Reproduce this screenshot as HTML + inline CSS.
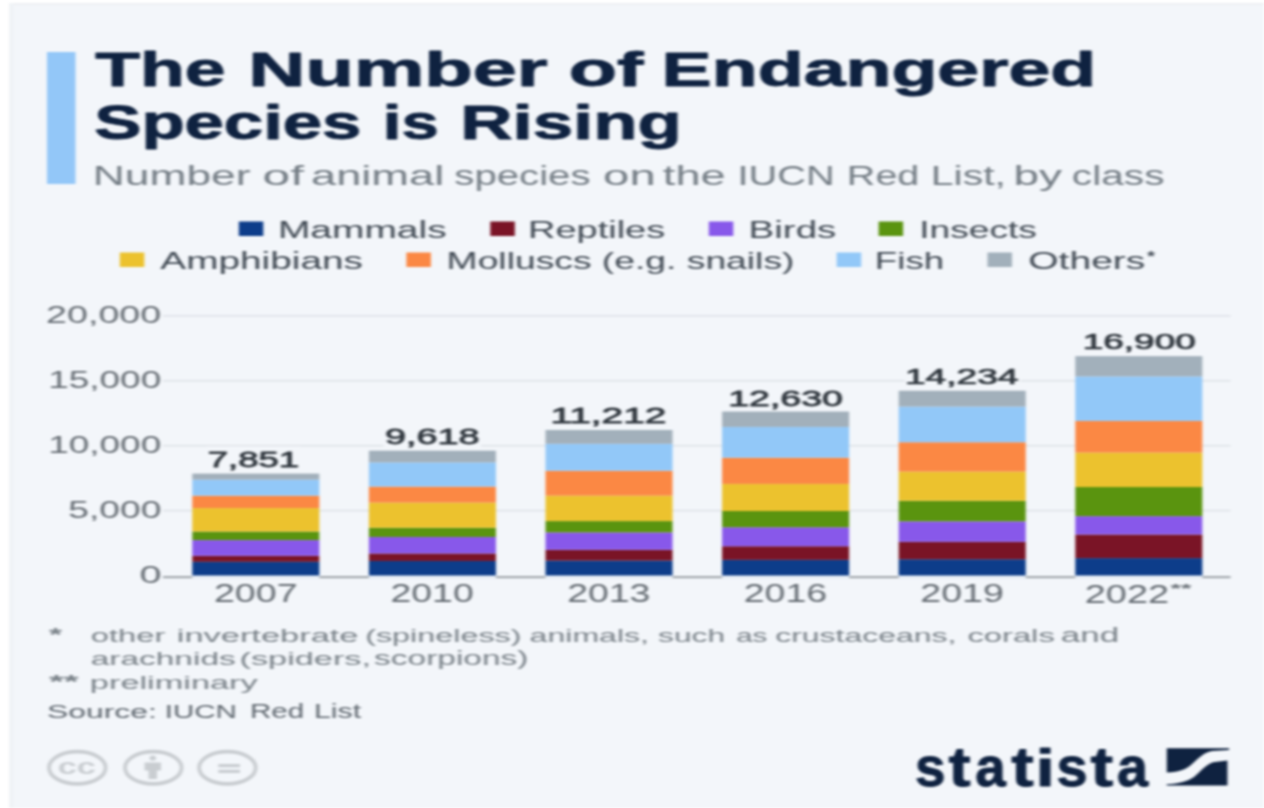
<!DOCTYPE html>
<html><head><meta charset="utf-8"><title>The Number of Endangered Species is Rising</title>
<style>
html,body{margin:0;padding:0;background:#fff;}
body{width:1264px;height:808px;overflow:hidden;position:relative;}
svg{position:absolute;left:0;top:0;display:block;}
text{font-family:"Liberation Sans",sans-serif;white-space:pre;}
</style></head><body>
<svg width="1264" height="808" viewBox="0 0 1264 808">
<defs><filter id="bl" x="-2%" y="-2%" width="104%" height="104%" color-interpolation-filters="sRGB"><feGaussianBlur stdDeviation="1.5 0.8"/></filter></defs>
<rect x="0" y="0" width="1264" height="808" fill="#ffffff"/>
<g filter="url(#bl)">
<rect x="9" y="3" width="1255" height="805" fill="#f3f6fa"/>
<rect x="9" y="3" width="1255" height="2" fill="#eef0f3"/>
<rect x="9" y="3" width="5" height="805" fill="#f0f3f6"/>
<rect x="47" y="52" width="28.5" height="132" fill="#93c7f8"/>
<text transform="translate(95.27,85.50) scale(1.5313,1)" font-size="47.83" font-weight="700" fill="#0f2240" stroke="#0f2240" stroke-width="0.9" stroke-linejoin="round">The</text>
<text transform="translate(248.35,85.50) scale(1.6558,1)" font-size="47.83" font-weight="700" fill="#0f2240" stroke="#0f2240" stroke-width="0.9" stroke-linejoin="round">Number</text>
<text transform="translate(568.84,85.50) scale(1.6519,1)" font-size="47.83" font-weight="700" fill="#0f2240" stroke="#0f2240" stroke-width="0.9" stroke-linejoin="round">of</text>
<text transform="translate(661.61,85.50) scale(1.5728,1)" font-size="47.83" font-weight="700" fill="#0f2240" stroke="#0f2240" stroke-width="0.9" stroke-linejoin="round">Endangered</text>
<text transform="translate(94.28,138.50) scale(1.4772,1)" font-size="47.83" font-weight="700" fill="#0f2240" stroke="#0f2240" stroke-width="0.9" stroke-linejoin="round">Species</text>
<text transform="translate(382.82,138.50) scale(1.3987,1)" font-size="47.83" font-weight="700" fill="#0f2240" stroke="#0f2240" stroke-width="0.9" stroke-linejoin="round">is</text>
<text transform="translate(460.29,138.50) scale(1.5155,1)" font-size="47.83" font-weight="700" fill="#0f2240" stroke="#0f2240" stroke-width="0.9" stroke-linejoin="round">Rising</text>
<text transform="translate(92.75,184.50) scale(1.6547,1)" font-size="26.81" font-weight="400" fill="#737c84">Number</text>
<text transform="translate(262.51,184.50) scale(1.8531,1)" font-size="26.81" font-weight="400" fill="#737c84">of</text>
<text transform="translate(310.99,184.50) scale(1.6876,1)" font-size="26.81" font-weight="400" fill="#737c84">animal</text>
<text transform="translate(454.29,184.50) scale(1.4997,1)" font-size="26.81" font-weight="400" fill="#737c84">species</text>
<text transform="translate(603.11,184.50) scale(1.7628,1)" font-size="26.81" font-weight="400" fill="#737c84">on</text>
<text transform="translate(662.82,184.50) scale(1.6882,1)" font-size="26.81" font-weight="400" fill="#737c84">the</text>
<text transform="translate(737.42,184.50) scale(1.4837,1)" font-size="26.81" font-weight="400" fill="#737c84">IUCN</text>
<text transform="translate(846.84,184.50) scale(1.4742,1)" font-size="26.81" font-weight="400" fill="#737c84">Red</text>
<text transform="translate(930.72,184.50) scale(1.5300,1)" font-size="26.81" font-weight="400" fill="#737c84">List,</text>
<text transform="translate(1013.51,184.50) scale(1.7142,1)" font-size="26.81" font-weight="400" fill="#737c84">by</text>
<text transform="translate(1071.87,184.50) scale(1.5173,1)" font-size="26.81" font-weight="400" fill="#737c84">class</text>
<rect x="238.8" y="221.5" width="24.5" height="14.5" fill="#0d3d8a"/>
<text transform="translate(277.88,238.00) scale(1.5812,1)" font-size="24.64" font-weight="400" fill="#3f4852">Mammals</text>
<rect x="490.3" y="221.5" width="24.5" height="14.5" fill="#7a1426"/>
<text transform="translate(527.96,238.00) scale(1.5424,1)" font-size="24.64" font-weight="400" fill="#3f4852">Reptiles</text>
<rect x="708.8" y="221.5" width="24.5" height="14.5" fill="#8858ea"/>
<text transform="translate(748.62,238.00) scale(1.5617,1)" font-size="24.64" font-weight="400" fill="#3f4852">Birds</text>
<rect x="878.5999999999999" y="221.5" width="24.5" height="14.5" fill="#5a940f"/>
<text transform="translate(919.25,238.00) scale(1.5089,1)" font-size="24.64" font-weight="400" fill="#3f4852">Insects</text>
<rect x="119.8" y="252.5" width="24.5" height="14.5" fill="#ecc22e"/>
<text transform="translate(160.30,269.00) scale(1.5743,1)" font-size="24.64" font-weight="400" fill="#3f4852">Amphibians</text>
<rect x="406.40000000000003" y="252.5" width="24.5" height="14.5" fill="#fb8844"/>
<text transform="translate(446.62,269.00) scale(1.5127,1)" font-size="24.64" font-weight="400" fill="#3f4852">Molluscs (e.g. snails)</text>
<rect x="836.6999999999999" y="252.5" width="24.5" height="14.5" fill="#92c8f8"/>
<text transform="translate(874.87,269.00) scale(1.4886,1)" font-size="24.64" font-weight="400" fill="#3f4852">Fish</text>
<rect x="987.5" y="252.5" width="24.5" height="14.5" fill="#a2b0bb"/>
<text transform="translate(1028.24,269.00) scale(1.5846,1)" font-size="24.64" font-weight="400" fill="#3f4852">Others</text>
<text transform="translate(1147.30,261.36) scale(0.4931,0.3571)" font-size="40" font-weight="700" fill="#3f4852">*</text>
<text transform="translate(139.42,583.00) scale(1.6793,1)" font-size="23.57" font-weight="400" fill="#636a71">0</text>
<rect x="163" y="509.80" width="1067.6" height="1.6" fill="#dfe3e8"/>
<text transform="translate(68.31,518.10) scale(1.5780,1)" font-size="23.57" font-weight="400" fill="#636a71">5,000</text>
<rect x="163" y="444.90" width="1067.6" height="1.6" fill="#dfe3e8"/>
<text transform="translate(48.23,453.20) scale(1.5675,1)" font-size="23.57" font-weight="400" fill="#636a71">10,000</text>
<rect x="163" y="380.00" width="1067.6" height="1.6" fill="#dfe3e8"/>
<text transform="translate(48.23,388.30) scale(1.5675,1)" font-size="23.57" font-weight="400" fill="#636a71">15,000</text>
<rect x="163" y="315.10" width="1067.6" height="1.6" fill="#dfe3e8"/>
<text transform="translate(46.12,323.40) scale(1.5971,1)" font-size="23.57" font-weight="400" fill="#636a71">20,000</text>
<rect x="163" y="576" width="1067.6" height="2.2" fill="#a4aaaf"/>
<rect x="192.30" y="575" width="127.0" height="4" fill="#e9eff6"/>
<rect x="192.30" y="561.79" width="127.0" height="13.71" fill="#0d3d8a"/>
<rect x="192.30" y="555.80" width="127.0" height="6.00" fill="#7a1426"/>
<rect x="192.30" y="540.09" width="127.0" height="15.71" fill="#8858ea"/>
<rect x="192.30" y="531.50" width="127.0" height="8.59" fill="#5a940f"/>
<rect x="192.30" y="508.07" width="127.0" height="23.43" fill="#ecc22e"/>
<rect x="192.30" y="495.66" width="127.0" height="12.41" fill="#fb8844"/>
<rect x="192.30" y="479.67" width="127.0" height="15.99" fill="#92c8f8"/>
<rect x="192.30" y="473.59" width="127.0" height="6.07" fill="#a2b0bb"/>
<rect x="206.60" y="446.50" width="93.90" height="24.50" fill="#f3f6fa"/>
<text transform="translate(207.77,467.00) scale(1.6193,1)" font-size="22.57" font-weight="400" fill="#2e353c" stroke="#2e353c" stroke-width="0.75">7,851</text>
<text transform="translate(213.92,602.00) scale(1.4973,1)" font-size="25.14" font-weight="400" fill="#636a71">2007</text>
<rect x="368.90" y="575" width="127.0" height="4" fill="#e9eff6"/>
<rect x="368.90" y="560.96" width="127.0" height="14.54" fill="#0d3d8a"/>
<rect x="368.90" y="553.46" width="127.0" height="7.50" fill="#7a1426"/>
<rect x="368.90" y="536.96" width="127.0" height="16.50" fill="#8858ea"/>
<rect x="368.90" y="527.76" width="127.0" height="9.20" fill="#5a940f"/>
<rect x="368.90" y="502.59" width="127.0" height="25.17" fill="#ecc22e"/>
<rect x="368.90" y="486.57" width="127.0" height="16.02" fill="#fb8844"/>
<rect x="368.90" y="462.41" width="127.0" height="24.17" fill="#92c8f8"/>
<rect x="368.90" y="450.66" width="127.0" height="11.75" fill="#a2b0bb"/>
<rect x="383.60" y="423.80" width="97.40" height="24.50" fill="#f3f6fa"/>
<text transform="translate(384.90,444.30) scale(1.6768,1)" font-size="22.57" font-weight="400" fill="#2e353c" stroke="#2e353c" stroke-width="0.75">9,618</text>
<text transform="translate(390.53,602.00) scale(1.4868,1)" font-size="25.14" font-weight="400" fill="#636a71">2010</text>
<rect x="545.50" y="575" width="127.0" height="4" fill="#e9eff6"/>
<rect x="545.50" y="560.53" width="127.0" height="14.97" fill="#0d3d8a"/>
<rect x="545.50" y="549.79" width="127.0" height="10.75" fill="#7a1426"/>
<rect x="545.50" y="532.39" width="127.0" height="17.39" fill="#8858ea"/>
<rect x="545.50" y="521.07" width="127.0" height="11.32" fill="#5a940f"/>
<rect x="545.50" y="495.62" width="127.0" height="25.45" fill="#ecc22e"/>
<rect x="545.50" y="470.73" width="127.0" height="24.90" fill="#fb8844"/>
<rect x="545.50" y="443.78" width="127.0" height="26.95" fill="#92c8f8"/>
<rect x="545.50" y="429.97" width="127.0" height="13.81" fill="#a2b0bb"/>
<rect x="550.30" y="402.20" width="117.30" height="24.50" fill="#f3f6fa"/>
<text transform="translate(550.38,422.70) scale(1.7241,1)" font-size="22.57" font-weight="400" fill="#2e353c" stroke="#2e353c" stroke-width="0.75">11,212</text>
<text transform="translate(567.13,602.00) scale(1.4903,1)" font-size="25.14" font-weight="400" fill="#636a71">2013</text>
<rect x="722.10" y="575" width="127.0" height="4" fill="#e9eff6"/>
<rect x="722.10" y="559.85" width="127.0" height="15.65" fill="#0d3d8a"/>
<rect x="722.10" y="546.24" width="127.0" height="13.60" fill="#7a1426"/>
<rect x="722.10" y="527.27" width="127.0" height="18.98" fill="#8858ea"/>
<rect x="722.10" y="510.99" width="127.0" height="16.28" fill="#5a940f"/>
<rect x="722.10" y="483.91" width="127.0" height="27.08" fill="#ecc22e"/>
<rect x="722.10" y="457.69" width="127.0" height="26.22" fill="#fb8844"/>
<rect x="722.10" y="426.93" width="127.0" height="30.76" fill="#92c8f8"/>
<rect x="722.10" y="411.56" width="127.0" height="15.37" fill="#a2b0bb"/>
<rect x="728.00" y="385.00" width="116.80" height="24.50" fill="#f3f6fa"/>
<text transform="translate(728.18,405.50) scale(1.6640,1)" font-size="22.57" font-weight="400" fill="#2e353c" stroke="#2e353c" stroke-width="0.75">12,630</text>
<text transform="translate(743.73,602.00) scale(1.4903,1)" font-size="25.14" font-weight="400" fill="#636a71">2016</text>
<rect x="898.70" y="575" width="127.0" height="4" fill="#e9eff6"/>
<rect x="898.70" y="559.25" width="127.0" height="16.25" fill="#0d3d8a"/>
<rect x="898.70" y="541.79" width="127.0" height="17.46" fill="#7a1426"/>
<rect x="898.70" y="521.35" width="127.0" height="20.44" fill="#8858ea"/>
<rect x="898.70" y="500.77" width="127.0" height="20.57" fill="#5a940f"/>
<rect x="898.70" y="471.57" width="127.0" height="29.20" fill="#ecc22e"/>
<rect x="898.70" y="442.23" width="127.0" height="29.33" fill="#fb8844"/>
<rect x="898.70" y="406.60" width="127.0" height="35.63" fill="#92c8f8"/>
<rect x="898.70" y="390.74" width="127.0" height="15.86" fill="#a2b0bb"/>
<rect x="904.70" y="363.80" width="115.70" height="24.50" fill="#f3f6fa"/>
<text transform="translate(904.92,384.30) scale(1.6447,1)" font-size="22.57" font-weight="400" fill="#2e353c" stroke="#2e353c" stroke-width="0.75">14,234</text>
<text transform="translate(920.32,602.00) scale(1.4938,1)" font-size="25.14" font-weight="400" fill="#636a71">2019</text>
<rect x="1075.30" y="575" width="127.0" height="4" fill="#e9eff6"/>
<rect x="1075.30" y="558.12" width="127.0" height="17.38" fill="#0d3d8a"/>
<rect x="1075.30" y="534.50" width="127.0" height="23.62" fill="#7a1426"/>
<rect x="1075.30" y="516.14" width="127.0" height="18.35" fill="#8858ea"/>
<rect x="1075.30" y="487.02" width="127.0" height="29.13" fill="#5a940f"/>
<rect x="1075.30" y="452.58" width="127.0" height="34.44" fill="#ecc22e"/>
<rect x="1075.30" y="420.91" width="127.0" height="31.67" fill="#fb8844"/>
<rect x="1075.30" y="376.43" width="127.0" height="44.48" fill="#92c8f8"/>
<rect x="1075.30" y="356.14" width="127.0" height="20.29" fill="#a2b0bb"/>
<rect x="1082.60" y="328.40" width="114.90" height="24.50" fill="#f3f6fa"/>
<text transform="translate(1082.83,348.90) scale(1.6355,1)" font-size="22.57" font-weight="400" fill="#2e353c" stroke="#2e353c" stroke-width="0.75">16,900</text>
<text transform="translate(1084.70,602.50) scale(1.5104,1)" font-size="25.14" font-weight="400" fill="#636a71">2022</text>
<text transform="translate(1170.60,593.37) scale(0.6667,0.3214)" font-size="40" font-weight="700" fill="#636a71">**</text>
<text transform="translate(49.00,640.81) scale(0.8333,0.4643)" font-size="40" font-weight="700" fill="#788087">*</text>
<text transform="translate(90.79,641.70) scale(1.6966,1)" font-size="19.28" font-weight="400" fill="#788087">other</text>
<text transform="translate(176.76,641.70) scale(1.7862,1)" font-size="19.28" font-weight="400" fill="#788087">invertebrate</text>
<text transform="translate(365.16,641.70) scale(1.6787,1)" font-size="19.28" font-weight="400" fill="#788087">(spineless)</text>
<text transform="translate(529.62,641.70) scale(1.6639,1)" font-size="19.28" font-weight="400" fill="#788087">animals,</text>
<text transform="translate(658.05,641.70) scale(1.6478,1)" font-size="19.28" font-weight="400" fill="#788087">such</text>
<text transform="translate(736.22,641.70) scale(1.5299,1)" font-size="19.28" font-weight="400" fill="#788087">as</text>
<text transform="translate(775.22,641.70) scale(1.6566,1)" font-size="19.28" font-weight="400" fill="#788087">crustaceans,</text>
<text transform="translate(967.39,641.70) scale(1.6993,1)" font-size="19.28" font-weight="400" fill="#788087">corals</text>
<text transform="translate(1060.80,641.70) scale(1.8125,1)" font-size="19.28" font-weight="400" fill="#788087">and</text>
<text transform="translate(90.76,665.40) scale(1.7342,1)" font-size="19.28" font-weight="400" fill="#788087">arachnids</text>
<text transform="translate(239.54,665.40) scale(1.7795,1)" font-size="19.28" font-weight="400" fill="#788087">(spiders,</text>
<text transform="translate(374.10,665.40) scale(1.7366,1)" font-size="19.28" font-weight="400" fill="#788087">scorpions)</text>
<text transform="translate(48.93,687.81) scale(0.9500,0.4643)" font-size="40" font-weight="700" fill="#788087">**</text>
<text transform="translate(89.87,688.50) scale(1.7806,1)" font-size="19.28" font-weight="400" fill="#788087">preliminary</text>
<text transform="translate(46.96,717.80) scale(1.6551,1)" font-size="19.28" font-weight="400" fill="#5d656d">Source:</text>
<text transform="translate(164.74,717.80) scale(1.5335,1)" font-size="19.28" font-weight="400" fill="#5d656d">IUCN</text>
<text transform="translate(249.94,717.80) scale(1.5318,1)" font-size="19.28" font-weight="400" fill="#5d656d">Red</text>
<text transform="translate(313.98,717.80) scale(1.5705,1)" font-size="19.28" font-weight="400" fill="#5d656d">List</text>
<ellipse cx="77.3" cy="767.75" rx="28.3" ry="16.2" fill="none" stroke="#c9cdd1" stroke-width="3.8"/>
<ellipse cx="153.3" cy="767.75" rx="28.3" ry="16.2" fill="none" stroke="#c9cdd1" stroke-width="3.8"/>
<ellipse cx="227.4" cy="767.75" rx="28.3" ry="16.2" fill="none" stroke="#c9cdd1" stroke-width="3.8"/>
<text transform="translate(57.63,773.60) scale(1.5640,1)" font-size="21.89" font-weight="700" fill="#c9cdd1">cc</text>
<ellipse cx="152.8" cy="758" rx="3.2" ry="2.6" fill="#c9cdd1"/>
<path d="M144.5 762.5 h16.5 v8 h-4 v8.5 h-8.5 v-8.5 h-4 z" fill="#c9cdd1"/>
<rect x="218.3" y="764" width="21.7" height="3.2" fill="#c9cdd1"/>
<rect x="218.3" y="769.8" width="21.7" height="3.2" fill="#c9cdd1"/>
<text transform="translate(914.88,786.25) scale(0.9132,0.9182)" font-size="60" font-weight="700" fill="#0f2240" stroke="#0f2240" stroke-width="1.092" stroke-linejoin="round">s</text>
<text transform="translate(948.54,785.74) scale(1.1075,0.9298)" font-size="60" font-weight="700" fill="#0f2240" stroke="#0f2240" stroke-width="0.982" stroke-linejoin="round">t</text>
<text transform="translate(975.36,786.25) scale(0.9128,0.9182)" font-size="60" font-weight="700" fill="#0f2240" stroke="#0f2240" stroke-width="1.092" stroke-linejoin="round">a</text>
<text transform="translate(1011.23,785.74) scale(1.1237,0.9298)" font-size="60" font-weight="700" fill="#0f2240" stroke="#0f2240" stroke-width="0.974" stroke-linejoin="round">t</text>
<text transform="translate(1035.50,786.30) scale(1.1667,0.8529)" font-size="60" font-weight="700" fill="#0f2240" stroke="#0f2240" stroke-width="0.990" stroke-linejoin="round">i</text>
<text transform="translate(1056.45,786.25) scale(0.9306,0.9182)" font-size="60" font-weight="700" fill="#0f2240" stroke="#0f2240" stroke-width="1.082" stroke-linejoin="round">s</text>
<text transform="translate(1090.62,785.74) scale(1.1344,0.9298)" font-size="60" font-weight="700" fill="#0f2240" stroke="#0f2240" stroke-width="0.969" stroke-linejoin="round">t</text>
<text transform="translate(1116.93,786.25) scale(0.9283,0.9182)" font-size="60" font-weight="700" fill="#0f2240" stroke="#0f2240" stroke-width="1.083" stroke-linejoin="round">a</text>
<path d="M1166.8 748.2 L1229 748.2 L1229 750 L1212 751 C1204 752.5 1199 757.5 1192 764 C1186 769.5 1180 772 1166.8 772.4 Z" fill="#0f2240"/>
<path d="M1166.8 785.6 L1227.4 785.6 L1227.4 760.6 L1213 762.3 C1205 765 1201 771.5 1194 777 C1187 781.5 1180 783.5 1166.8 784.3 Z" fill="#0f2240"/>
</g>
</svg>
</body></html>
